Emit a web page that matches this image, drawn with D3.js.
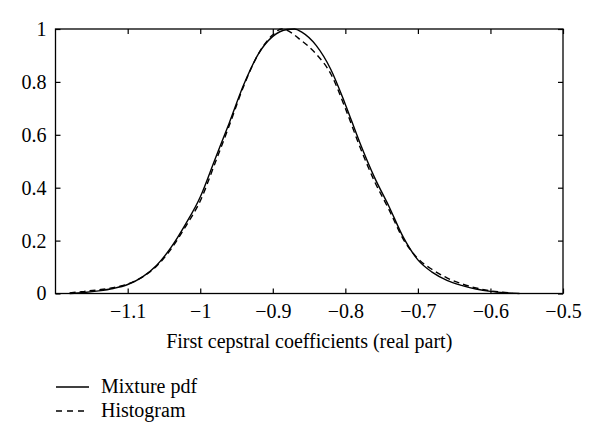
<!DOCTYPE html>
<html>
<head>
<meta charset="utf-8">
<script src="https://cdn.jsdelivr.net/npm/d3@7"></script>
<style>
    body { margin: 0; background: #fff; }
    text { font-family: "Liberation Serif", "Times New Roman", serif; fill: #000; }
</style>
</head>
<body>
<svg id="chart"></svg>
<script>
'use strict';

/*
    Data
*/

const MIXTURE_X = [-1.18, -1.16, -1.14, -1.12, -1.10, -1.08, -1.06, -1.04, -1.02, -1.00,
                   -0.98, -0.96, -0.94, -0.92, -0.90, -0.88, -0.87, -0.86, -0.84, -0.82,
                   -0.80, -0.78, -0.76, -0.74, -0.72, -0.70, -0.68, -0.66, -0.64, -0.62,
                   -0.60, -0.58, -0.56];
const MIXTURE_Y = [0.000, 0.004, 0.010, 0.019, 0.034, 0.062, 0.107, 0.175, 0.263, 0.365,
                   0.505, 0.645, 0.790, 0.905, 0.972, 0.998, 1.000, 0.988, 0.937, 0.847,
                   0.715, 0.570, 0.440, 0.330, 0.212, 0.127, 0.080, 0.050, 0.031, 0.017,
                   0.008, 0.003, 0.000];

const HISTOGRAM_X = [-1.18, -1.16, -1.14, -1.12, -1.10, -1.08, -1.06, -1.04, -1.02, -1.00,
                     -0.98, -0.96, -0.94, -0.92, -0.90, -0.888, -0.86, -0.84, -0.82,
                     -0.80, -0.78, -0.76, -0.74, -0.72, -0.70, -0.68, -0.66, -0.64, -0.62,
                     -0.60, -0.58, -0.57];
const HISTOGRAM_Y = [0.002, 0.008, 0.014, 0.022, 0.036, 0.062, 0.104, 0.169, 0.254, 0.350,
                     0.490, 0.635, 0.785, 0.905, 0.978, 1.000, 0.955, 0.905, 0.830,
                     0.700, 0.555, 0.425, 0.318, 0.205, 0.132, 0.090, 0.059, 0.037, 0.021,
                     0.010, 0.004, 0.002];

const X_TICKS = [-1.1, -1, -0.9, -0.8, -0.7, -0.6, -0.5];
const Y_TICKS = [0, 0.2, 0.4, 0.6, 0.8, 1];

const X_LABEL = 'First cepstral coefficients (real part)';
const LEGEND_LABELS = ['Mixture pdf', 'Histogram'];

/*
    Constants
*/

const WIDTH  = 600;
const HEIGHT = 446;

const PLOT = Object.freeze({
    LEFT   : 55.5,
    RIGHT  : 563,
    TOP    : 29,
    BOTTOM : 293.5
});

const FONT_SIZE = 20;
const TICK_LEN  = 5;

const SVG = d3.select('#chart')
              .attr('width', WIDTH)
              .attr('height', HEIGHT);

let x = d3.scaleLinear()
          .domain([-1.1995, -0.5])
          .range([PLOT.LEFT, PLOT.RIGHT]);

let y = d3.scaleLinear()
          .domain([0, 1])
          .range([PLOT.BOTTOM, PLOT.TOP]);

const fmt = d => d3.format('')(d).replace('-', '\u2212');

/*
    Axes (ticks point inward, box on all sides)
*/

function styleAxis(g) {
    g.select('.domain').remove();
    g.selectAll('.tick line').attr('stroke', '#000').attr('stroke-width', 1.2);
    g.selectAll('.tick text')
     .attr('font-size', FONT_SIZE)
     .attr('font-family', '"Liberation Serif", serif');
}

SVG.append('g')
   .attr('transform', `translate(0,${PLOT.BOTTOM})`)
   .call(d3.axisBottom(x).tickValues(X_TICKS).tickSize(-TICK_LEN).tickPadding(10).tickFormat(fmt))
   .call(styleAxis);

SVG.append('g')
   .attr('transform', `translate(0,${PLOT.TOP})`)
   .call(d3.axisTop(x).tickValues(X_TICKS).tickSize(-TICK_LEN).tickFormat(''))
   .call(styleAxis);

SVG.append('g')
   .attr('transform', `translate(${PLOT.LEFT},0)`)
   .call(d3.axisLeft(y).tickValues(Y_TICKS).tickSize(-TICK_LEN).tickPadding(9).tickFormat(d3.format('')))
   .call(styleAxis);

SVG.append('g')
   .attr('transform', `translate(${PLOT.RIGHT},0)`)
   .call(d3.axisRight(y).tickValues(Y_TICKS).tickSize(-TICK_LEN).tickFormat(''))
   .call(styleAxis);

SVG.append('rect')
   .attr('x', PLOT.LEFT)
   .attr('y', PLOT.TOP)
   .attr('width', PLOT.RIGHT - PLOT.LEFT)
   .attr('height', PLOT.BOTTOM - PLOT.TOP)
   .attr('fill', 'none')
   .attr('stroke', '#000')
   .attr('stroke-width', 1.3);

/*
    Curves
*/

const line = d3.line()
               .x(d => x(d[0]))
               .y(d => y(d[1]))
               .curve(d3.curveMonotoneX);

SVG.append('path')
   .datum(d3.zip(MIXTURE_X, MIXTURE_Y))
   .attr('d', line)
   .attr('fill', 'none')
   .attr('stroke', '#000')
   .attr('stroke-width', 1.4);

SVG.append('path')
   .datum(d3.zip(HISTOGRAM_X, HISTOGRAM_Y))
   .attr('d', line)
   .attr('fill', 'none')
   .attr('stroke', '#000')
   .attr('stroke-width', 1.4)
   .attr('stroke-dasharray', '6,4');

/*
    Labels and legend
*/

SVG.append('text')
   .attr('x', (PLOT.LEFT + PLOT.RIGHT) / 2)
   .attr('y', 348)
   .attr('text-anchor', 'middle')
   .attr('font-size', FONT_SIZE)
   .text(X_LABEL);

const legend = SVG.append('g');

LEGEND_LABELS.forEach((label, i) => {
    const ly = 387 + i * 24;
    legend.append('line')
          .attr('x1', 56).attr('x2', 89)
          .attr('y1', ly).attr('y2', ly)
          .attr('stroke', '#000')
          .attr('stroke-width', 1.3)
          .attr('stroke-dasharray', i === 1 ? '6,5' : null);
    legend.append('text')
          .attr('x', 101)
          .attr('y', ly + 6)
          .attr('font-size', FONT_SIZE)
          .text(label);
});
</script>
</body>
</html>
